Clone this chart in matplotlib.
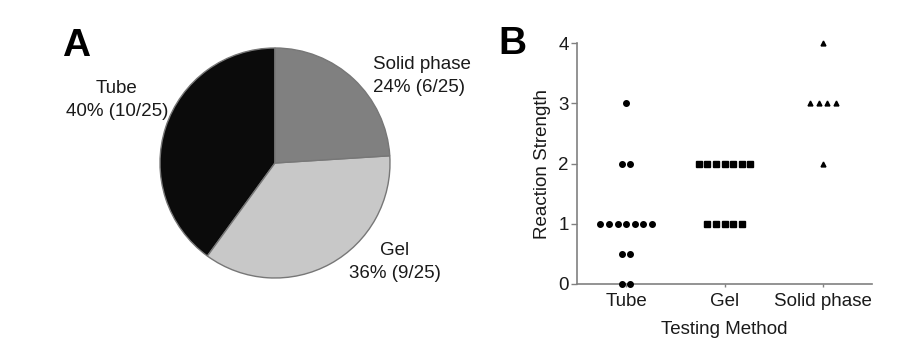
import numpy as np
import matplotlib
matplotlib.use('Agg')
import matplotlib.pyplot as plt

plt.rcParams['font.family'] = ['Liberation Sans', 'DejaVu Sans']

# pie data (A)
methods = ['Tube', 'Gel', 'Solid phase']
counts = [10, 9, 6]
total = 25
pie_colors = ['#0b0b0b', '#c8c8c8', '#808080']

# dot plot data (B): value -> number of dots
tube_vals = [3, 2, 2, 1, 1, 1, 1, 1, 1, 1, 0.5, 0.5, 0, 0]
gel_vals = [2, 2, 2, 2, 2, 2, 2, 1, 1, 1, 1, 1]
solid_vals = [4, 3, 3, 3, 3, 2]
groups = [tube_vals, gel_vals, solid_vals]
markers = ['o', 's', '^']
msizes = [4.0, 3.8, 3.5]

W, H = 916, 349
fs = 13.5
tc = '#1a1a1a'
fig = plt.figure(figsize=(W / 100, H / 100), dpi=100)

# ---- A: pie
cx, cy, r = 275, 163, 115
half = 1.25 * r
axA = fig.add_axes([(cx - half) / W, (H - cy - half) / H, 2 * half / W, 2 * half / H])
axA.pie(counts, colors=pie_colors, startangle=90, counterclock=True,
        wedgeprops=dict(edgecolor='#777777', linewidth=1.0))
axA.set_xlim(-1.25, 1.25)
axA.set_ylim(-1.25, 1.25)
axA.set_aspect('equal')

def px(x, y):
    return x / W, 1 - y / H

lab_kw = dict(fontsize=fs, color=tc, linespacing=1.4)
fig.text(*px(117, 100), 'Tube\n%d%% (%d/%d)' % (100 * counts[0] / total, counts[0], total),
         ha='center', va='center', **lab_kw)
fig.text(*px(373, 76), 'Solid phase\n%d%% (%d/%d)' % (100 * counts[2] / total, counts[2], total),
         ha='left', va='center', **lab_kw)
fig.text(*px(395, 262), 'Gel\n%d%% (%d/%d)' % (100 * counts[1] / total, counts[1], total),
         ha='center', va='center', **lab_kw)
fig.text(*px(76, 46), 'A', fontsize=28, fontweight='bold', ha='center', va='center')

# ---- B: dot plot
axB = fig.add_axes([577 / W, (H - 284) / H, 295 / W, 241 / H])
spacing = 0.088
for i, vals in enumerate(groups):
    vals = np.array(vals, dtype=float)
    xs = np.zeros_like(vals)
    for v in np.unique(vals):
        idx = np.where(vals == v)[0]
        n = len(idx)
        xs[idx] = (i + 1) + (np.arange(n) - (n - 1) / 2) * spacing
    axB.plot(xs, vals, linestyle='none', marker=markers[i], ms=msizes[i],
             color='black', clip_on=False, zorder=3)

axB.set_xlim(0.5, 3.5)
axB.set_ylim(0, 4)
axB.set_xticks([1, 2, 3])
axB.set_xticklabels(methods)
axB.set_yticks([0, 1, 2, 3, 4])
for s in ['top', 'right']:
    axB.spines[s].set_visible(False)
for s in ['left', 'bottom']:
    axB.spines[s].set_color('#808080')
    axB.spines[s].set_linewidth(1.2)
axB.tick_params(axis='y', length=4, width=1, color='#808080', labelsize=fs, labelcolor=tc, pad=2)
axB.tick_params(axis='x', length=2.5, width=1, color='#808080', labelsize=fs, labelcolor=tc, pad=4)
axB.set_ylabel('Reaction Strength', fontsize=fs, color=tc, labelpad=5)
axB.set_xlabel('Testing Method', fontsize=fs, color=tc, labelpad=8)
fig.text(*px(512, 44), 'B', fontsize=28, fontweight='bold', ha='center', va='center')

fig.savefig('out.png', dpi=100)
